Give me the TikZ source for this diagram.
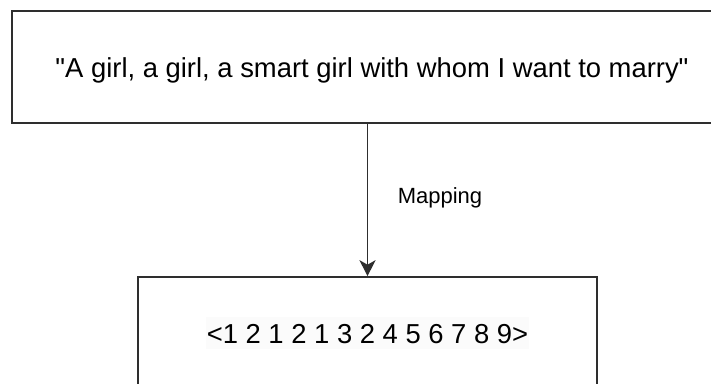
\documentclass[tikz,border=0pt]{standalone}
\usepackage{fontspec}
\newfontfamily\arialfont{Liberation Sans}
\usetikzlibrary{arrows.meta}
\begin{document}
\begin{tikzpicture}[x=1pt,y=-1pt,
  boxstyle/.style={draw=black!82, line width=1.6pt, fill=white, inner sep=0pt},
  bigtext/.style={font=\arialfont\fontsize{27.4}{32}\selectfont, text=black, anchor=base, inner sep=0pt},
  smalltext/.style={font=\arialfont\fontsize{22}{26}\selectfont, text=black, anchor=base, inner sep=0pt},
  conn/.style={draw=black!82, line width=1.6pt, -{Stealth[length=16pt,width=16pt,inset=4.5pt]}}]
\useasboundingbox (0,0) rectangle (711,383);
\clip (0,0) rectangle (711,383);
\fill[white] (0,0) rectangle (711,383);
\node[boxstyle, minimum width=720pt, minimum height=112pt] (top) at (372,67) {};
\node[boxstyle, minimum width=459pt, minimum height=114pt] (bot) at (367.5,334) {};
\node[bigtext] (toptext) at (372,77) {"A girl, a girl, a smart girl with whom I want to marry"};
\node[bigtext, fill=black!1.5, text height=19.7pt, text depth=0pt, inner ysep=6pt, inner xsep=1pt] (bottext) at (367.5,343) {<1 2 1 2 1 3 2 4 5 6 7 8 9>};
\node[smalltext] (map) at (440,203) {Mapping};
\draw[conn] (bot.north |- top.south) -- (bot.north);
\end{tikzpicture}
\end{document}
